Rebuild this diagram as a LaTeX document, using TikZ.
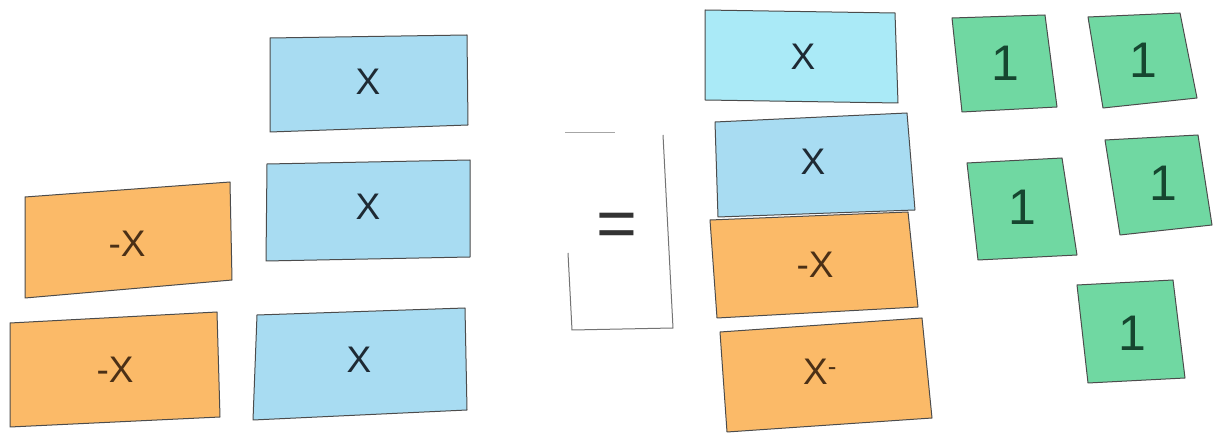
\documentclass[tikz,border=0pt]{standalone}
\usepackage{fontspec}
\setmainfont{Liberation Sans}
\definecolor{tileorange}{RGB}{251,186,104}
\definecolor{tileblue}{RGB}{168,220,242}
\definecolor{tilecyan}{RGB}{170,234,247}
\definecolor{tilegreen}{RGB}{112,216,162}
\definecolor{inkorange}{RGB}{75,48,22}
\definecolor{inkblue}{RGB}{30,42,52}
\definecolor{inkgreen}{RGB}{22,70,48}
\begin{document}
\begin{tikzpicture}[x=1pt,y=-1pt,
  tile/.style={draw=black!70, line width=1pt, line join=round},
  xlab/.style={font=\fontsize{37}{40}\selectfont, inner sep=0pt},
  onelab/.style={font=\fontsize{50}{55}\selectfont, inner sep=0pt, text=inkgreen},
  card/.style={draw=black!55, line width=1pt}]
\useasboundingbox (0,0) rectangle (1213,435);
\fill[white] (0,0) rectangle (1213,435);

% left orange tiles
\filldraw[tile, fill=tileorange] (25,197) -- (230,182) -- (232,280) -- (25,298) -- cycle;
\node[xlab, text=inkorange] (lo1) at (127,244) {-X};
\filldraw[tile, fill=tileorange] (10,323) -- (217,312) -- (220,417) -- (10,427) -- cycle;
\node[xlab, text=inkorange] (lo2) at (115,370) {-X};

% left blue tiles
\filldraw[tile, fill=tileblue] (270,38) -- (467,35) -- (468,125) -- (270,132) -- cycle;
\node[xlab, text=inkblue] (lb1) at (368,82) {X};
\filldraw[tile, fill=tileblue] (267,164) -- (470,160) -- (470,257) -- (266,261) -- cycle;
\node[xlab, text=inkblue] (lb2) at (368,207) {X};
\filldraw[tile, fill=tileblue] (257,315) -- (465,308) -- (467,410) -- (253,420) -- cycle;
\node[xlab, text=inkblue] (lb3) at (359,360) {X};

% equals card
\fill[white] (565,133) -- (663,133) -- (673,328) -- (572,330) -- cycle;
\draw[card, black!35] (565,133) -- (615,133);
\draw[card] (663,135) -- (673,328) -- (572,330) -- (568,253);
\node[font=\fontsize{70}{72}\selectfont, inner sep=0pt, text=black!80] (eq) at (617,230) {=};

% right blue tiles
\filldraw[tile, fill=tilecyan] (705,10) -- (895,13) -- (898,103) -- (705,100) -- cycle;
\node[xlab, text=inkblue] (rb1) at (803,57) {X};
\filldraw[tile, fill=tileblue] (715,122) -- (907,113) -- (915,210) -- (718,217) -- cycle;
\node[xlab, text=inkblue] (rb2) at (813,162) {X};

% right orange tiles
\filldraw[tile, fill=tileorange] (710,220) -- (908,212) -- (918,307) -- (717,318) -- cycle;
\node[xlab, text=inkorange] (ro1) at (815,265) {-X};
\filldraw[tile, fill=tileorange] (720,332) -- (922,318) -- (932,418) -- (727,432) -- cycle;
\node[xlab, text=inkorange] (ro2) at (820,372) {X\textsuperscript{-}};

% green unit tiles
\filldraw[tile, fill=tilegreen] (952,18) -- (1045,15) -- (1057,107) -- (962,112) -- cycle;
\node[onelab] (g1) at (1005,63) {1};
\filldraw[tile, fill=tilegreen] (1088,17) -- (1180,13) -- (1197,98) -- (1103,108) -- cycle;
\node[onelab] (g2) at (1143,60) {1};
\filldraw[tile, fill=tilegreen] (967,163) -- (1062,158) -- (1077,255) -- (978,260) -- cycle;
\node[onelab] (g3) at (1022,207) {1};
\filldraw[tile, fill=tilegreen] (1105,140) -- (1198,135) -- (1212,225) -- (1120,235) -- cycle;
\node[onelab] (g4) at (1163,183) {1};
\filldraw[tile, fill=tilegreen] (1077,285) -- (1173,280) -- (1185,378) -- (1088,383) -- cycle;
\node[onelab] (g5) at (1132,333) {1};
\end{tikzpicture}
\end{document}
